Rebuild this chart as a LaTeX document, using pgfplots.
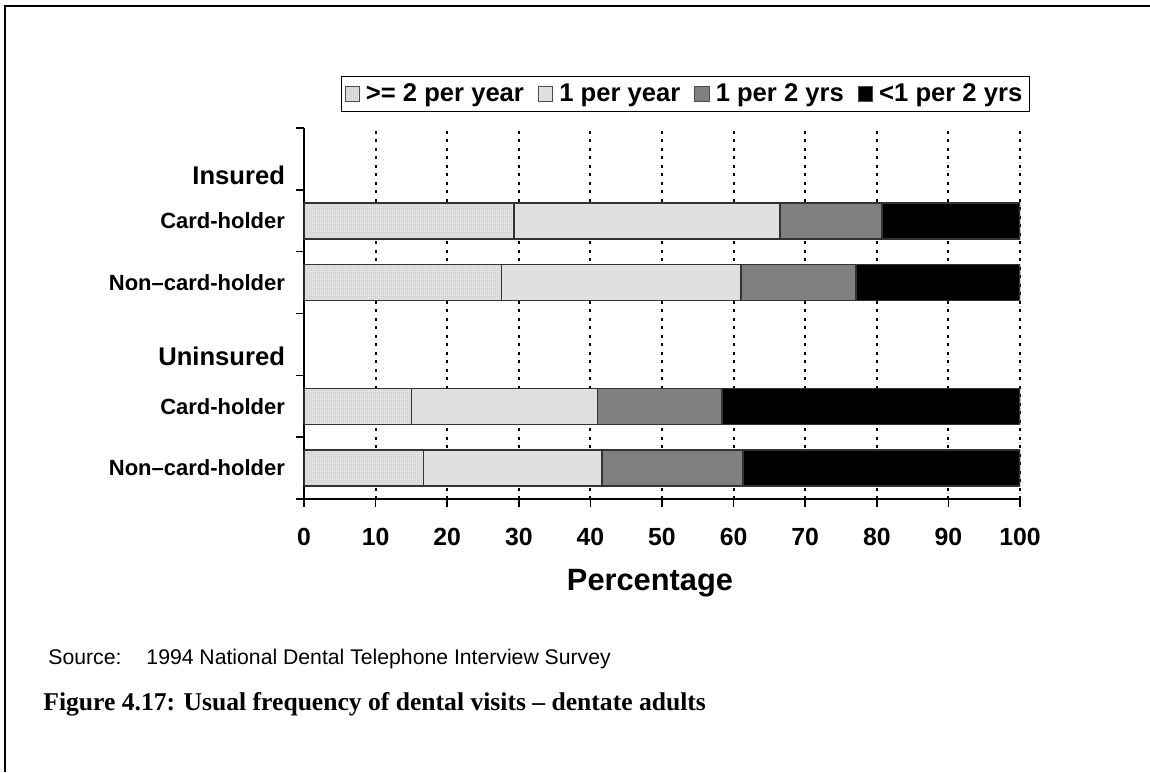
\documentclass[border=0pt]{standalone}
\usepackage{fontspec}
\setmainfont{Liberation Sans}
\newfontfamily\capfont[Ligatures=TeX]{Liberation Serif}
\usepackage{pgfplots}
\pgfplotsset{compat=1.18}
\usepackage{pgfplotstable}
\usetikzlibrary{patterns.meta}

\tikzdeclarepattern{
  name=finevlines,
  type=uncolored,
  bounding box={(0pt,0pt) and (1.1pt,1pt)},
  tile size={(1.1pt,1pt)},
  code={\draw[line width=0.4pt] (0.55pt,-0.1pt) -- (0.55pt,1.1pt);}
}

\definecolor{lgray}{HTML}{E0E0E0}
\definecolor{mgray}{HTML}{808080}
\definecolor{pgray}{HTML}{E8E8E8}

\pgfplotstableread{
y a b c d
4 29.3 37.2 14.2 19.3
3 27.6 33.4 16.1 22.9
1 15.0 26.0 17.4 41.6
0 16.7 24.9 19.7 38.7
}\data

\begin{document}
\begin{tikzpicture}
\path[use as bounding box] (-152pt,-136.5pt) rectangle (423pt,249.5pt);
\draw[line width=1pt] (-149.5pt,-136.5pt) -- (-149.5pt,246.5pt) -- (423pt,246.5pt);
\begin{axis}[
  name=ax, at={(0,0)}, anchor=south west,
  scale only axis, width=358pt, height=185.5pt,
  xbar stacked, bar width=18pt,
  xmin=0, xmax=100, ymin=-0.5, ymax=5.5,
  axis lines=left, axis line style={-, line width=0.8pt},
  xtick={0,10,...,100},
  ytick={-0.5,0.5,1.5,2.5,3.5,4.5,5.5}, yticklabels={},
  extra y ticks={0,1,1.81,3,4,4.74},
  extra y tick labels={
    {\fontsize{11}{13}\selectfont\bfseries Non--card-holder},
    {\fontsize{11}{13}\selectfont\bfseries Card-holder},
    {\fontsize{12.8}{15}\selectfont\bfseries Uninsured\hspace{2pt}},
    {\fontsize{11}{13}\selectfont\bfseries Non--card-holder},
    {\fontsize{11}{13}\selectfont\bfseries Card-holder},
    {\fontsize{12.8}{15}\selectfont\bfseries Insured\hspace{2pt}}},
  extra y tick style={major tick length=0pt, yticklabel style={xshift=-6pt}},
  tick style={black, line width=0.8pt},
  major tick length=4pt, tick align=outside,
  xmajorgrids,
  grid style={black, line width=1pt, dash pattern=on 1.5pt off 2.75pt},
  /pgf/number format/assume math mode=true,
  xticklabel style={font=\fontsize{12.4}{14}\selectfont\bfseries, yshift=-7pt},
  xlabel={Percentage},
  xlabel style={font=\fontsize{15.4}{18}\selectfont\bfseries, xshift=-6pt, yshift=-5pt},
  legend columns=4,
  legend style={at={(1.014,1.043)}, anchor=south east, draw=black,
    line width=0.75pt, inner sep=1.5pt,
    font=\fontsize{12.8}{15}\selectfont\bfseries,
    /tikz/every even column/.append style={column sep=5pt},
    /tikz/every odd column/.append style={column sep=1pt}},
  legend image code/.code={\draw[#1, draw=black!70, line width=0.5pt] (0pt,-3.6pt) rectangle (7.2pt,3.6pt);},
  every axis plot/.append style={draw=black!80, line width=0.75pt},
]
\addplot[fill=pgray, postaction={pattern=finevlines, pattern color=gray!75}] table[x=a,y=y] {\data};
\addplot[fill=lgray] table[x=b,y=y] {\data};
\addplot[fill=mgray] table[x=c,y=y] {\data};
\addplot[fill=black] table[x=d,y=y] {\data};
\legend{>= 2 per year, 1 per year, 1 per 2 yrs, <1 per 2 yrs}
\end{axis}
\node[anchor=base west, inner sep=0pt, font=\fontsize{10.6}{12}\selectfont] at (-128pt,-82.5pt) {Source:\hspace{1.18em}1994 National Dental Telephone Interview Survey};
\node[anchor=base west, inner sep=0pt, font=\fontsize{12.8}{15}\selectfont\capfont\bfseries] at (-130.5pt,-105.5pt) {Figure 4.17: Usual frequency of dental visits – dentate adults};
\end{tikzpicture}
\end{document}
